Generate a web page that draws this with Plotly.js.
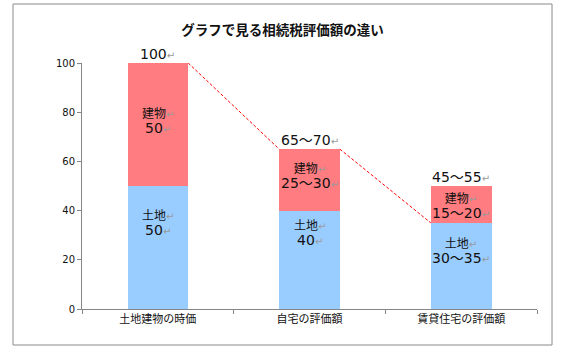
<!DOCTYPE html>
<html>
<head>
<meta charset="utf-8">
<script src="https://cdn.plot.ly/plotly-3.0.1.min.js"></script>
<style>html,body{margin:0;padding:0;background:#fff;}#chart{width:565px;height:355px;}</style>
</head>
<body>
<div id="chart"></div>
<script>
// ---- data ----
const categories = ['土地建物の時価', '自宅の評価額', '賃貸住宅の評価額'];
const landValues = [50, 40, 35];
const buildingValues = [50, 25, 15];
const landLabels = ['50', '40', '30～35'];
const buildingLabels = ['50', '25～30', '15～20'];
const totalLabels = ['100', '65～70', '45～55'];
const landName = '土地';
const buildingName = '建物';
// connector line: value at right edge of bar i -> value at left edge of bar i+1
const connectorFrom = [100, 65];
const connectorTo = [65, 35];

// ---- style ----
const barWidth = 0.4;
const landLabelShift = [24, 26, 14];     // px above segment middle
const buildingLabelShift = [3, 3, -2];
const FONT = '"DejaVu Sans", "Noto Sans CJK JP", sans-serif';
const CJK = '"Noto Sans CJK JP", sans-serif';
const RET = '<span style="color:#9a9a9a;font-size:10px">↵</span>';
const num = s => '<span style="font-size:14px">' + s + '</span>' + RET;
const word = s => '<span style="font-size:12px">' + s + '</span>' + RET;

const traces = [
  {type: 'bar', x: categories, y: landValues, width: barWidth, name: landName,
   marker: {color: '#99CCFF'}, hoverinfo: 'none'},
  {type: 'bar', x: categories, y: buildingValues, width: barWidth, name: buildingName,
   marker: {color: '#FF7C80'}, hoverinfo: 'none'}
];

// connector line on an overlay linear axis using category indices
const lx = [], ly = [];
for (let i = 0; i < connectorFrom.length; i++) {
  lx.push(i + barWidth / 2, i + 1 - barWidth / 2, null);
  ly.push(connectorFrom[i], connectorTo[i], null);
}
traces.push({type: 'scatter', mode: 'lines', x: lx, y: ly, xaxis: 'x2',
  line: {color: '#FF0000', width: 1, dash: '3px,2px'}, hoverinfo: 'none', connectgaps: false});

const annotations = [];
const afont = {family: FONT, size: 11.5, color: '#111'};
categories.forEach((c, i) => {
  const total = landValues[i] + buildingValues[i];
  annotations.push({x: c, y: total, xref: 'x', yref: 'y', text: num(totalLabels[i]),
    showarrow: false, yanchor: 'bottom', yshift: -1, font: afont});
  annotations.push({x: c, y: landValues[i] / 2, xref: 'x', yref: 'y',
    text: word(landName) + '<br>' + num(landLabels[i]), showarrow: false,
    yshift: landLabelShift[i], font: afont});
  annotations.push({x: c, y: landValues[i] + buildingValues[i] / 2, xref: 'x', yref: 'y',
    text: word(buildingName) + '<br>' + num(buildingLabels[i]), showarrow: false,
    yshift: buildingLabelShift[i], font: afont});
});

const L = 82, R = 28, T = 63, B = 46;
const pw = 565 - L - R, ph = 355 - T - B;
const layout = {
  width: 565, height: 355,
  margin: {l: L, r: R, t: T, b: B, pad: 0},
  paper_bgcolor: '#fff', plot_bgcolor: '#fff',
  showlegend: false,
  barmode: 'stack',
  title: {text: '<b>グラフで見る相続税評価額の違い</b>', x: 0.5, xanchor: 'center', y: 1 - 30 / 355, yanchor: 'middle',
    font: {family: CJK, size: 13.5, color: '#111'}},
  xaxis: {type: 'category', tickson: 'boundaries', ticks: 'outside', ticklen: 4, tickcolor: '#868686',
    showline: true, linecolor: '#868686', linewidth: 1, showgrid: false, zeroline: false,
    tickfont: {family: CJK, size: 11, color: '#111'}, fixedrange: true},
  xaxis2: {overlaying: 'x', range: [-0.5, categories.length - 0.5], visible: false, fixedrange: true},
  yaxis: {range: [0, 100], dtick: 20, ticks: 'outside', ticklen: 4, tickcolor: '#868686',
    showline: true, linecolor: '#868686', linewidth: 1, showgrid: false, zeroline: false,
    tickfont: {family: FONT, size: 10, color: '#111'}, fixedrange: true},
  annotations: annotations,
  shapes: [{type: 'rect', xref: 'paper', yref: 'paper',
    x0: (13 - L) / pw, x1: (552 - L) / pw, y0: (355 - B - 345) / ph, y1: (355 - B - 4) / ph,
    line: {color: '#8a8a8a', width: 1}, fillcolor: 'rgba(0,0,0,0)', layer: 'below'}]
};

Plotly.newPlot('chart', traces, layout, {displayModeBar: false, staticPlot: true});
</script>
</body>
</html>
